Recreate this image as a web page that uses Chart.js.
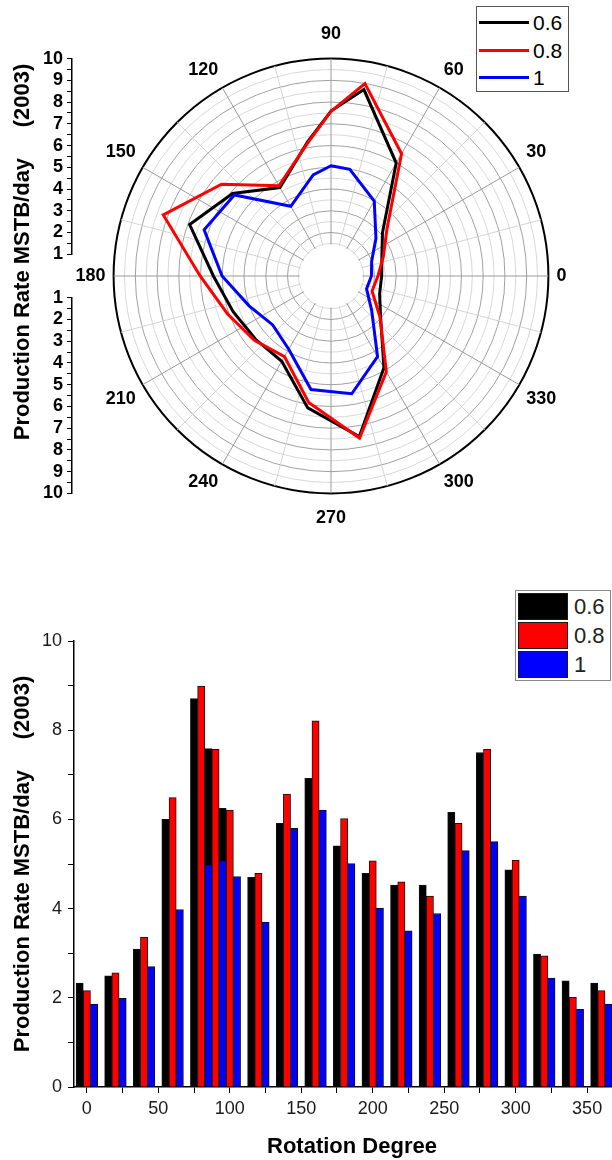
<!DOCTYPE html>
<html>
<head>
<meta charset="utf-8">
<title>Production Rate vs Rotation Degree</title>
<script src="https://cdn.jsdelivr.net/npm/chart.js@4.4.1/dist/chart.umd.min.js"></script>
<style>
  html, body { margin:0; padding:0; background:#fff; }
  body { width:612px; height:1160px; overflow:hidden; position:relative; font-family:"Liberation Sans", Arial, Helvetica, sans-serif; }
  canvas { position:absolute; display:block; }
  #polar { left:0; top:0; }
  #polarAxis { left:0; top:0; }
  #bars { left:0; top:560px; }
  .legend { position:absolute; background:#fff; box-sizing:border-box; }
  #polarLegend { left:476px; top:6px; width:93px; height:86px; border:1px solid #555; }
  #barLegend { left:515px; top:590px; width:96px; height:91px; border:1px solid #888; }
  .row { position:absolute; left:0; right:0; display:flex; align-items:center; }
  .lineSample { display:inline-block; width:50px; height:3px; margin-left:2px; }
  .swatch { display:inline-block; width:50px; height:27px; margin-left:2px; box-sizing:border-box; border:1px solid #1a1a1a; }
  .pl { font-size:21px; margin-left:4px; color:#000; line-height:27px; }
  .bl { font-size:22px; margin-left:6px; color:#222; line-height:27px; }
</style>
</head>
<body>
<canvas id="polar" width="662" height="545"></canvas>
<canvas id="polarAxis" width="100" height="545"></canvas>
<canvas id="bars" width="660" height="600"></canvas>
<div id="polarLegend" class="legend"></div>
<div id="barLegend" class="legend"></div>
<script>
// ---------------- data ----------------
const angles = [0, 20, 40, 60, 80, 90, 100, 120, 140, 160, 180, 200, 220, 240, 260, 280, 300, 320, 340, 360];
const rate06 = [2.33, 2.49, 3.09, 6.00, 8.71, 7.59, 6.25, 4.70, 5.91, 6.92, 5.41, 4.79, 4.53, 4.53, 6.16, 7.50, 4.87, 2.98, 2.38, 2.33];
const rate08 = [2.16, 2.56, 3.36, 6.49, 8.99, 7.57, 6.21, 4.79, 6.57, 8.21, 6.02, 5.07, 4.60, 4.28, 5.91, 7.57, 5.09, 2.94, 2.01, 2.16];
const rate10 = [1.86, 1.99, 2.70, 3.98, 4.98, 5.07, 4.72, 3.70, 5.80, 6.21, 5.01, 4.01, 3.50, 3.89, 5.30, 5.50, 4.28, 2.44, 1.74, 1.86];
const seriesNames = ['0.6', '0.8', '1'];
const seriesColors = ['#000000', '#ff0000', '#0000ff'];
const polarAngleTickLabels = [0, 30, 60, 90, 120, 150, 180, 210, 240, 270, 300, 330];
const radialTickLabels = [1, 2, 3, 4, 5, 6, 7, 8, 9, 10];
const barXTickLabels = [0, 50, 100, 150, 200, 250, 300, 350];
const barYTickLabels = [0, 2, 4, 6, 8, 10];
const yAxisTitle = 'Production Rate MSTB/day     (2003)';
const xAxisTitle = 'Rotation Degree';
const seriesValues = [rate06, rate08, rate10];

const FONT = '"Liberation Sans", Arial, Helvetica, sans-serif';
Chart.defaults.font.family = FONT;
Chart.defaults.color = '#000';

// ---------------- legends (HTML text) ----------------
const pl = document.getElementById('polarLegend');
const bl = document.getElementById('barLegend');
seriesNames.forEach((n, i) => {
  const r1 = document.createElement('div');
  r1.className = 'row'; r1.style.top = (2 + 27.5 * i) + 'px'; r1.style.height = '27px';
  r1.innerHTML = '<span class="lineSample" style="background:' + seriesColors[i] + '"></span><span class="pl">' + n + '</span>';
  pl.appendChild(r1);
  const r2 = document.createElement('div');
  r2.className = 'row'; r2.style.top = (2 + 29 * i) + 'px'; r2.style.height = '27px';
  r2.innerHTML = '<span class="swatch" style="background:' + seriesColors[i] + '"></span><span class="bl">' + n + '</span>';
  bl.appendChild(r2);
});

// draw datasets in declaration order (first at the bottom, last on top)
function drawInOrder(chart) {
  chart.data.datasets.forEach((d, i) => {
    const meta = chart.getDatasetMeta(i);
    if (!meta.hidden) meta.controller.draw();
  });
}

// ---------------- polar (radar) chart ----------------
// spokes every 5 degrees, clockwise from the top: 90, 85, ..., 0, 355, ..., 95
const polarGrid = Array.from({length: 72}, (_, i) => (450 - 5 * i) % 360);
function toPolar(vals) {
  return polarGrid.map(a => { const k = angles.indexOf(a); return k < 0 ? null : vals[k]; });
}
const polarPlugin = {
  id: 'polarOrder',
  beforeDatasetsDraw(chart) {
    const r = chart.scales.r, ctx = chart.ctx;
    ctx.save();
    ctx.fillStyle = '#fff';
    ctx.beginPath();
    ctx.arc(r.xCenter, r.yCenter, r.getDistanceFromCenterForValue(1.45), 0, Math.PI * 2);
    ctx.fill();
    ctx.restore();
    drawInOrder(chart);
    return false;
  }
};
new Chart(document.getElementById('polar'), {
  type: 'radar',
  data: {
    labels: polarGrid.map(String),
    datasets: seriesNames.map((n, i) => ({
      label: n,
      data: toPolar(seriesValues[i]),
      borderColor: seriesColors[i],
      backgroundColor: seriesColors[i],
      borderWidth: 3,
      pointRadius: 0,
      fill: false,
      spanGaps: true,
      tension: 0
    }))
  },
  options: {
    responsive: false,
    animation: false,
    layout: { padding: { top: 23, bottom: 15, left: 0, right: 0 } },
    plugins: { legend: { display: false }, tooltip: { enabled: false } },
    scales: {
      r: {
        min: 0, max: 10,
        startAngle: 0,
        ticks: { display: false, stepSize: 0.5 },
        grid: {
          circular: true,
          color: c => {
            const v = c.tick.value;
            if (v >= 10) return '#000';
            if (v < 1.5) return 'rgba(0,0,0,0)';
            return Math.abs(v - Math.round(v)) < 1e-6 ? '#a0a0a0' : '#d8d8d8';
          },
          lineWidth: c => c.tick.value >= 10 ? 2 : 1
        },
        angleLines: {
          color: c => polarGrid[c.index] % 30 === 0 ? '#9a9a9a' : '#d4d4d4',
          lineWidth: c => polarGrid[c.index] % 15 === 0 ? 1 : 0
        },
        pointLabels: {
          callback: l => polarAngleTickLabels.includes(Number(l)) ? l : '',
          font: { size: 18, weight: 'bold', lineHeight: 1.2 },
          color: '#000',
          padding: c => (polarGrid[c.index] === 90 || polarGrid[c.index] === 270) ? 14 : 8
        }
      }
    }
  },
  plugins: [polarPlugin]
});

// ---------------- left radial axis for the polar plot ----------------
const radialTickOpts = {
  stepSize: 0.5, autoSkip: false,
  callback: v => radialTickLabels.includes(v) ? String(v) : '',
  font: { size: 18, weight: 'bold' }, color: '#000', padding: 4
};
const radialGridOpts = { display: true, drawOnChartArea: false, drawTicks: true, tickLength: 5, color: '#000', tickWidth: 1 };
new Chart(document.getElementById('polarAxis'), {
  type: 'scatter',
  data: { datasets: [] },
  options: {
    responsive: false,
    animation: false,
    layout: { padding: { top: 23, bottom: 15, left: 0, right: 0 } },
    plugins: { legend: { display: false }, tooltip: { enabled: false } },
    scales: {
      x: { type: 'linear', display: false, min: 0, max: 1 },
      tTitle: {
        type: 'linear', position: 'left', stack: 'T', stackWeight: 458, weight: 11, min: 0, max: 1,
        ticks: { display: false }, grid: { display: false }, border: { display: false },
        title: { display: true, text: yAxisTitle, font: { size: 22, weight: 'bold' }, color: '#000', padding: { top: 10, bottom: 0 } },
        afterFit: s => { s.width = 40; }
      },
      tSp: { type: 'linear', position: 'left', stack: 'T', stackWeight: 49, weight: 10, display: false, min: 0, max: 1 },
      spTop: { type: 'linear', position: 'left', stack: 'L', stackWeight: 35.6, weight: 5, display: false, min: 0, max: 1 },
      yTop: {
        type: 'linear', position: 'left', stack: 'L', stackWeight: 195.7, weight: 4, min: 1, max: 10,
        ticks: radialTickOpts, grid: radialGridOpts, border: { display: true, color: '#000', width: 1.5 },
        afterFit: s => { s.width = 32; }
      },
      mid: { type: 'linear', position: 'left', stack: 'L', stackWeight: 43.5, weight: 3, display: false, min: 0, max: 1 },
      yBot: {
        type: 'linear', position: 'left', stack: 'L', stackWeight: 195.7, weight: 2, min: 1, max: 10, reverse: true,
        ticks: radialTickOpts, grid: radialGridOpts, border: { display: true, color: '#000', width: 1.5 },
        afterFit: s => { s.width = 32; }
      },
      spBot: { type: 'linear', position: 'left', stack: 'L', stackWeight: 36.6, weight: 1, display: false, min: 0, max: 1 }
    }
  }
});

// ---------------- grouped bar chart ----------------
new Chart(document.getElementById('bars'), {
  type: 'bar',
  data: {
    datasets: seriesNames.map((n, i) => ({
      label: n,
      data: angles.map((a, k) => ({ x: a, y: seriesValues[i][k] })),
      backgroundColor: seriesColors[i],
      borderColor: '#111',
      borderWidth: 1,
      barThickness: 7.2
    }))
  },
  options: {
    responsive: false,
    animation: false,
    layout: { padding: { top: 81, right: 30, bottom: 0, left: 0 } },
    plugins: { legend: { display: false }, tooltip: { enabled: false } },
    scales: {
      x: {
        type: 'linear', min: -9, max: 380, offset: false,
        ticks: {
          stepSize: 25, includeBounds: false, autoSkip: false, maxRotation: 0,
          callback: v => barXTickLabels.includes(v) ? String(v) : '',
          font: { size: 18 }, color: '#1a1a1a', padding: 5
        },
        grid: { display: true, drawOnChartArea: false, tickLength: 6, color: '#000', offset: false },
        border: { display: true, color: '#000', width: 1.5 },
        title: { display: true, text: xAxisTitle, font: { size: 22, weight: 'bold' }, color: '#000', padding: { top: 9, bottom: 0 } }
      },
      y: {
        type: 'linear', min: 0, max: 10,
        ticks: {
          stepSize: 1, autoSkip: false,
          callback: v => barYTickLabels.includes(v) ? String(v) : '',
          font: { size: 18 }, color: '#1a1a1a', padding: 6
        },
        grid: { display: true, drawOnChartArea: false, tickLength: 6, color: '#000' },
        border: { display: true, color: '#000', width: 1.5 },
        title: { display: true, text: yAxisTitle, font: { size: 22, weight: 'bold' }, color: '#000', padding: { top: 10, bottom: 0 } },
        afterFit: s => { s.width = 74; }
      }
    }
  },
  plugins: [{ id: 'barOrder', beforeDatasetsDraw(chart) { drawInOrder(chart); return false; } }]
});
</script>
</body>
</html>
